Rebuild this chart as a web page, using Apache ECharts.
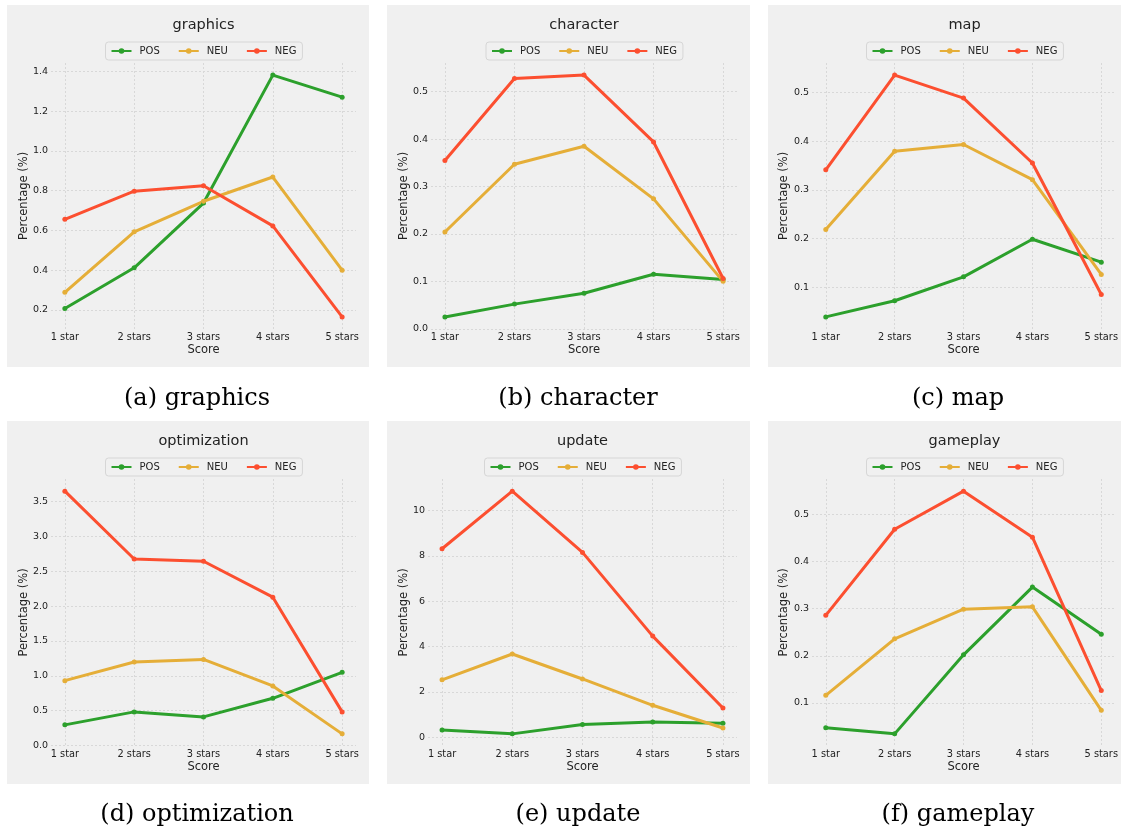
<!DOCTYPE html>
<html>
<head>
<meta charset="utf-8">
<script src="https://cdn.jsdelivr.net/npm/echarts@6/dist/echarts.min.js"></script>
<style>
  html, body { margin: 0; padding: 0; background: #ffffff; }
  #chart { width: 1121px; height: 832px; }
</style>
</head>
<body>
<div id="chart"></div>
<script>
// ---- data ----
const scores = ['1 star', '2 stars', '3 stars', '4 stars', '5 stars']
const sentiments = ['POS', 'NEU', 'NEG']
const aspects = ['graphics', 'character', 'map', 'optimization', 'update', 'gameplay']
const captions = ['(a) graphics', '(b) character', '(c) map', '(d) optimization', '(e) update', '(f) gameplay']

const graphicsPos = [0.207, 0.412, 0.738, 1.382, 1.271]
const graphicsNeu = [0.289, 0.593, 0.747, 0.869, 0.400]
const graphicsNeg = [0.656, 0.798, 0.825, 0.623, 0.165]

const characterPos = [0.025, 0.052, 0.075, 0.115, 0.104]
const characterNeu = [0.204, 0.347, 0.385, 0.274, 0.100]
const characterNeg = [0.355, 0.528, 0.535, 0.394, 0.106]

const mapPos = [0.040, 0.073, 0.122, 0.199, 0.152]
const mapNeu = [0.219, 0.379, 0.393, 0.321, 0.127]
const mapNeg = [0.341, 0.535, 0.488, 0.355, 0.086]

const optimizationPos = [0.296, 0.482, 0.410, 0.677, 1.049]
const optimizationNeu = [0.930, 1.197, 1.235, 0.854, 0.167]
const optimizationNeg = [3.648, 2.675, 2.642, 2.127, 0.482]

const updatePos = [0.32, 0.15, 0.56, 0.67, 0.62]
const updateNeu = [2.53, 3.67, 2.57, 1.41, 0.41]
const updateNeg = [8.31, 10.85, 8.15, 4.46, 1.29]

const gameplayPos = [0.047, 0.034, 0.202, 0.346, 0.246]
const gameplayNeu = [0.116, 0.236, 0.299, 0.304, 0.084]
const gameplayNeg = [0.286, 0.469, 0.550, 0.452, 0.126]

const graphicsTicks = [0.2, 0.4, 0.6, 0.8, 1.0, 1.2, 1.4]
const characterTicks = [0.0, 0.1, 0.2, 0.3, 0.4, 0.5]
const mapTicks = [0.1, 0.2, 0.3, 0.4, 0.5]
const optimizationTicks = [0.0, 0.5, 1.0, 1.5, 2.0, 2.5, 3.0, 3.5]
const updateTicks = [0, 2, 4, 6, 8, 10]
const gameplayTicks = [0.1, 0.2, 0.3, 0.4, 0.5]
const tickDecimals = [1, 1, 1, 1, 0, 1]

const panelSeries = [
  [graphicsPos, graphicsNeu, graphicsNeg],
  [characterPos, characterNeu, characterNeg],
  [mapPos, mapNeu, mapNeg],
  [optimizationPos, optimizationNeu, optimizationNeg],
  [updatePos, updateNeu, updateNeg],
  [gameplayPos, gameplayNeu, gameplayNeg]
]
const panelTicks = [graphicsTicks, characterTicks, mapTicks, optimizationTicks, updateTicks, gameplayTicks]

// ---- layout ----
const colors = { POS: '#2ca02c', NEU: '#e5ae38', NEG: '#fc4f30' }
const xPos = [1, 2, 3, 4, 5]
const layout = [
  { box: [7, 5, 362, 362], plot: [51, 63, 305, 266], nameGap: 21, cap: [197, 399] },
  { box: [387, 5, 363, 362], plot: [431, 63, 306, 266], nameGap: 21, cap: [578, 399] },
  { box: [768, 5, 353, 362], plot: [812, 63, 305, 266], nameGap: 22, cap: [958, 399] },
  { box: [7, 421, 362, 363], plot: [51, 479, 305, 267], nameGap: 21, cap: [197, 815] },
  { box: [387, 421, 363, 363], plot: [428, 479, 309, 267], nameGap: 18, cap: [578, 815] },
  { box: [768, 421, 353, 363], plot: [812, 479, 305, 267], nameGap: 22, cap: [958, 815] }
]

const gridLine = { show: true, lineStyle: { color: '#d8d8d8', width: 1, type: [2, 2] } }

const grids = [], xAxes = [], yAxes = [], series = [], titles = [], legends = [], graphics = []

layout.forEach((p, k) => {
  const [gx, gy, gw, gh] = p.box
  const [px, py, pw, ph] = p.plot
  const cx = px + pw / 2

  graphics.push({
    type: 'rect', z: -100,
    shape: { x: gx, y: gy, width: gw, height: gh },
    style: { fill: '#f0f0f0' }
  })
  graphics.push({
    type: 'text', x: p.cap[0], y: p.cap[1],
    style: {
      text: captions[k], fill: '#000',
      font: '24px "DejaVu Serif"', align: 'center', verticalAlign: 'middle'
    }
  })

  titles.push({
    text: aspects[k], left: cx, top: gy + 13, textAlign: 'center', padding: 0,
    textStyle: { fontSize: 14.5, fontWeight: 'normal', color: '#222', fontFamily: 'DejaVu Sans' }
  })

  legends.push({
    data: sentiments, left: cx - 98, top: gy + 37,
    orient: 'horizontal', itemWidth: 20, itemHeight: 7, itemGap: 18,
    padding: [4, 6, 4, 5], backgroundColor: '#f0f0f0',
    borderColor: '#d6d6d6', borderWidth: 1, borderRadius: 3,
    textStyle: { fontSize: 10, color: '#222', fontFamily: 'DejaVu Sans', padding: [0, 0, 0, 3] }
  })

  grids.push({ left: px, top: py, width: pw, height: ph })

  const vals = panelSeries[k]
  const all = vals.flat()
  const lo = Math.min(...all), hi = Math.max(...all)
  const pad = (hi - lo) * 0.05
  const ticks = panelTicks[k]
  const dec = tickDecimals[k]

  xAxes.push({
    gridIndex: k, type: 'value', min: 0.8, max: 5.2,
    axisLine: { show: false },
    axisTick: { show: false, customValues: xPos },
    axisLabel: {
      customValues: xPos, formatter: v => scores[Math.round(v) - 1],
      fontSize: 9.8, color: '#222', margin: 3, fontFamily: 'DejaVu Sans'
    },
    splitLine: gridLine,
    name: 'Score', nameLocation: 'middle', nameGap: 15, nameMoveOverlap: false,
    nameTextStyle: { fontSize: 11.5, color: '#222', fontFamily: 'DejaVu Sans' }
  })

  yAxes.push({
    gridIndex: k, type: 'value', min: Math.min(lo - pad, ticks[0]), max: hi + pad,
    axisLine: { show: false },
    axisTick: { show: false, customValues: ticks },
    axisLabel: {
      customValues: ticks, formatter: v => v.toFixed(dec),
      fontSize: 9.5, color: '#222', margin: 3, fontFamily: 'DejaVu Sans'
    },
    splitLine: gridLine,
    name: 'Percentage (%)', nameLocation: 'middle', nameGap: p.nameGap, nameMoveOverlap: false,
    nameTextStyle: { fontSize: 11.5, color: '#222', fontFamily: 'DejaVu Sans' }
  })

  sentiments.forEach((s, j) => {
    series.push({
      name: s, type: 'line', xAxisIndex: k, yAxisIndex: k,
      data: scores.map((_, i) => [xPos[i], vals[j][i]]),
      color: colors[s],
      lineStyle: { width: 3, color: colors[s] },
      itemStyle: { color: colors[s] },
      symbol: 'circle', symbolSize: 5, showSymbol: true,
      emphasis: { disabled: true }
    })
  })
})

const chart = echarts.init(document.getElementById('chart'), null, { renderer: 'canvas' })
chart.setOption({
  animation: false,
  backgroundColor: '#ffffff',
  textStyle: { fontFamily: 'DejaVu Sans' },
  title: titles,
  legend: legends,
  grid: grids,
  xAxis: xAxes,
  yAxis: yAxes,
  series: series,
  graphic: graphics
})
</script>
</body>
</html>
